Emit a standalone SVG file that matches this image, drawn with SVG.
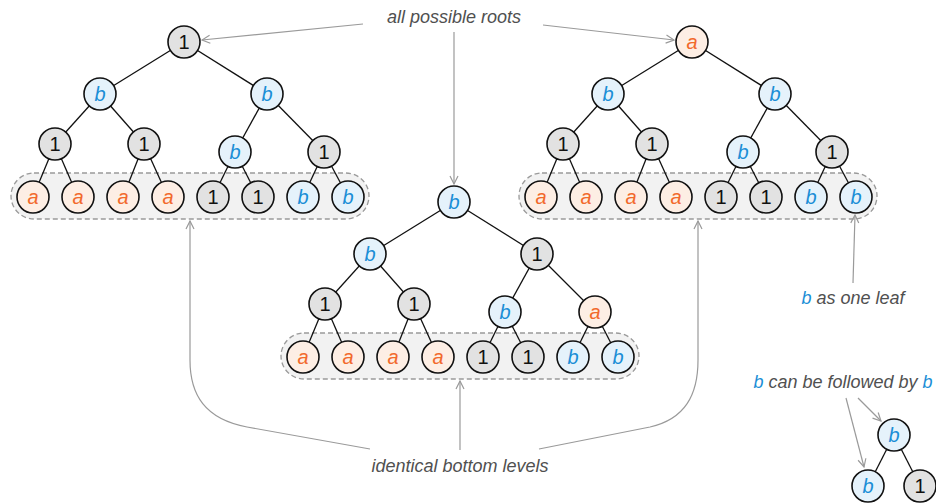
<svg xmlns="http://www.w3.org/2000/svg" width="936" height="504" viewBox="0 0 936 504">
<style>
.bg{fill:#ffffff}
circle{stroke:#111111;stroke-width:1.6}
.g circle{fill:#e2e2e2}
.b circle{fill:#e5f2fb}
.a circle{fill:#fdeee4}
.n text{font-family:"Liberation Sans",Arial,sans-serif;font-size:20px;text-anchor:middle}
.g text{fill:#111111}
.b text{fill:#1a8ed6;font-style:italic}
.a text{fill:#f26a2c;font-style:italic}
.edges line{stroke:#111111;stroke-width:1.3}
.box{fill:#f2f2f2;stroke:#9a9a9a;stroke-width:1.3;stroke-dasharray:5 3}
.arr{fill:none;stroke:#9a9a9a;stroke-width:1.2;marker-end:url(#ah)}
.lbl{font-family:"Liberation Sans",Arial,sans-serif;font-size:18px;font-style:italic;fill:#505050}
.lb{fill:#1a8ed6}
</style>
<defs>
<marker id="ah" viewBox="0 0 10 10" refX="9" refY="5" markerWidth="10" markerHeight="10" markerUnits="userSpaceOnUse" orient="auto">
<path d="M1,1 L9,5 L1,9" fill="none" stroke="#9a9a9a" stroke-width="1.2"/>
</marker>
</defs>
<rect class="bg" x="0" y="0" width="936" height="504"/>

<g id="boxes">
<rect class="box" x="11" y="173" width="358" height="46" rx="23"/>
<rect class="box" x="519" y="173" width="358" height="46" rx="23"/>
<rect class="box" x="281" y="333" width="358" height="46" rx="23"/>
</g>

<g id="connectors">
<g class="edges">
<line x1="184" y1="42" x2="100" y2="94"/><line x1="184" y1="42" x2="267" y2="94"/>
<line x1="100" y1="94" x2="55" y2="144"/><line x1="100" y1="94" x2="144" y2="144"/>
<line x1="267" y1="94" x2="235" y2="152"/><line x1="267" y1="94" x2="324" y2="152"/>
<line x1="55" y1="144" x2="33" y2="197"/><line x1="55" y1="144" x2="78" y2="197"/>
<line x1="144" y1="144" x2="123" y2="197"/><line x1="144" y1="144" x2="168" y2="197"/>
<line x1="235" y1="152" x2="213" y2="197"/><line x1="235" y1="152" x2="258" y2="197"/>
<line x1="324" y1="152" x2="303" y2="197"/><line x1="324" y1="152" x2="348" y2="197"/>
<line x1="692" y1="42" x2="608" y2="94"/><line x1="692" y1="42" x2="775" y2="94"/>
<line x1="608" y1="94" x2="563" y2="144"/><line x1="608" y1="94" x2="652" y2="144"/>
<line x1="775" y1="94" x2="743" y2="152"/><line x1="775" y1="94" x2="832" y2="152"/>
<line x1="563" y1="144" x2="541" y2="197"/><line x1="563" y1="144" x2="586" y2="197"/>
<line x1="652" y1="144" x2="631" y2="197"/><line x1="652" y1="144" x2="676" y2="197"/>
<line x1="743" y1="152" x2="721" y2="197"/><line x1="743" y1="152" x2="766" y2="197"/>
<line x1="832" y1="152" x2="811" y2="197"/><line x1="832" y1="152" x2="856" y2="197"/>
<line x1="454" y1="202" x2="370" y2="254"/><line x1="454" y1="202" x2="537" y2="254"/>
<line x1="370" y1="254" x2="325" y2="304"/><line x1="370" y1="254" x2="414" y2="304"/>
<line x1="537" y1="254" x2="505" y2="312"/><line x1="537" y1="254" x2="595" y2="312"/>
<line x1="325" y1="304" x2="303" y2="357"/><line x1="325" y1="304" x2="348" y2="357"/>
<line x1="414" y1="304" x2="393" y2="357"/><line x1="414" y1="304" x2="438" y2="357"/>
<line x1="505" y1="312" x2="483" y2="357"/><line x1="505" y1="312" x2="528" y2="357"/>
<line x1="595" y1="312" x2="573" y2="357"/><line x1="595" y1="312" x2="618" y2="357"/>
<line x1="894" y1="435" x2="868" y2="486"/><line x1="894" y1="435" x2="920" y2="486"/>
</g>
<path class="arr" d="M363,24 L202,40"/>
<path class="arr" d="M543,25 L674,40"/>
<path class="arr" d="M454,32 L454,184"/>
<path class="arr" d="M370,449 L247,427 C205,419 190,395 190,360 L190,221"/>
<path class="arr" d="M539,449 L650,427 C685,419 698,395 698,360 L698,221"/>
<path class="arr" d="M460,450 L460,381"/>
<path class="arr" d="M853,283 L855,215"/>
<path class="arr" d="M858,398 L881,421"/>
<path class="arr" d="M846,398 L864,467"/>
</g>

<g id="t1-r" class="n g"><circle cx="184" cy="42" r="16"/><text x="184" y="49">1</text></g>
<g id="t1-l" class="n b"><circle cx="100" cy="94" r="16"/><text x="100" y="101">b</text></g>
<g id="t1-r2" class="n b"><circle cx="267" cy="94" r="16"/><text x="267" y="101">b</text></g>
<g id="t1-ll" class="n g"><circle cx="55" cy="144" r="16"/><text x="55" y="151">1</text></g>
<g id="t1-lr" class="n g"><circle cx="144" cy="144" r="16"/><text x="144" y="151">1</text></g>
<g id="t1-rl" class="n b"><circle cx="235" cy="152" r="16"/><text x="235" y="159">b</text></g>
<g id="t1-rr" class="n g"><circle cx="324" cy="152" r="16"/><text x="324" y="159">1</text></g>
<g id="t1-f1" class="n a"><circle cx="33" cy="197" r="16"/><text x="33" y="204">a</text></g>
<g id="t1-f2" class="n a"><circle cx="78" cy="197" r="16"/><text x="78" y="204">a</text></g>
<g id="t1-f3" class="n a"><circle cx="123" cy="197" r="16"/><text x="123" y="204">a</text></g>
<g id="t1-f4" class="n a"><circle cx="168" cy="197" r="16"/><text x="168" y="204">a</text></g>
<g id="t1-f5" class="n g"><circle cx="213" cy="197" r="16"/><text x="213" y="204">1</text></g>
<g id="t1-f6" class="n g"><circle cx="258" cy="197" r="16"/><text x="258" y="204">1</text></g>
<g id="t1-f7" class="n b"><circle cx="303" cy="197" r="16"/><text x="303" y="204">b</text></g>
<g id="t1-f8" class="n b"><circle cx="348" cy="197" r="16"/><text x="348" y="204">b</text></g>

<g id="t3-r" class="n a"><circle cx="692" cy="42" r="16"/><text x="692" y="49">a</text></g>
<g id="t3-l" class="n b"><circle cx="608" cy="94" r="16"/><text x="608" y="101">b</text></g>
<g id="t3-r2" class="n b"><circle cx="775" cy="94" r="16"/><text x="775" y="101">b</text></g>
<g id="t3-ll" class="n g"><circle cx="563" cy="144" r="16"/><text x="563" y="151">1</text></g>
<g id="t3-lr" class="n g"><circle cx="652" cy="144" r="16"/><text x="652" y="151">1</text></g>
<g id="t3-rl" class="n b"><circle cx="743" cy="152" r="16"/><text x="743" y="159">b</text></g>
<g id="t3-rr" class="n g"><circle cx="832" cy="152" r="16"/><text x="832" y="159">1</text></g>
<g id="t3-f1" class="n a"><circle cx="541" cy="197" r="16"/><text x="541" y="204">a</text></g>
<g id="t3-f2" class="n a"><circle cx="586" cy="197" r="16"/><text x="586" y="204">a</text></g>
<g id="t3-f3" class="n a"><circle cx="631" cy="197" r="16"/><text x="631" y="204">a</text></g>
<g id="t3-f4" class="n a"><circle cx="676" cy="197" r="16"/><text x="676" y="204">a</text></g>
<g id="t3-f5" class="n g"><circle cx="721" cy="197" r="16"/><text x="721" y="204">1</text></g>
<g id="t3-f6" class="n g"><circle cx="766" cy="197" r="16"/><text x="766" y="204">1</text></g>
<g id="t3-f7" class="n b"><circle cx="811" cy="197" r="16"/><text x="811" y="204">b</text></g>
<g id="t3-f8" class="n b"><circle cx="856" cy="197" r="16"/><text x="856" y="204">b</text></g>

<g id="t2-r" class="n b"><circle cx="454" cy="202" r="16"/><text x="454" y="209">b</text></g>
<g id="t2-l" class="n b"><circle cx="370" cy="254" r="16"/><text x="370" y="261">b</text></g>
<g id="t2-r2" class="n g"><circle cx="537" cy="254" r="16"/><text x="537" y="261">1</text></g>
<g id="t2-ll" class="n g"><circle cx="325" cy="304" r="16"/><text x="325" y="311">1</text></g>
<g id="t2-lr" class="n g"><circle cx="414" cy="304" r="16"/><text x="414" y="311">1</text></g>
<g id="t2-rl" class="n b"><circle cx="505" cy="312" r="16"/><text x="505" y="319">b</text></g>
<g id="t2-rr" class="n a"><circle cx="595" cy="312" r="16"/><text x="595" y="319">a</text></g>
<g id="t2-f1" class="n a"><circle cx="303" cy="357" r="16"/><text x="303" y="364">a</text></g>
<g id="t2-f2" class="n a"><circle cx="348" cy="357" r="16"/><text x="348" y="364">a</text></g>
<g id="t2-f3" class="n a"><circle cx="393" cy="357" r="16"/><text x="393" y="364">a</text></g>
<g id="t2-f4" class="n a"><circle cx="438" cy="357" r="16"/><text x="438" y="364">a</text></g>
<g id="t2-f5" class="n g"><circle cx="483" cy="357" r="16"/><text x="483" y="364">1</text></g>
<g id="t2-f6" class="n g"><circle cx="528" cy="357" r="16"/><text x="528" y="364">1</text></g>
<g id="t2-f7" class="n b"><circle cx="573" cy="357" r="16"/><text x="573" y="364">b</text></g>
<g id="t2-f8" class="n b"><circle cx="618" cy="357" r="16"/><text x="618" y="364">b</text></g>

<g id="s-r" class="n b"><circle cx="894" cy="435" r="16"/><text x="894" y="442">b</text></g>
<g id="s-l" class="n b"><circle cx="868" cy="486" r="16"/><text x="868" y="493">b</text></g>
<g id="s-rr" class="n g"><circle cx="920" cy="486" r="16"/><text x="920" y="493">1</text></g>

<g id="labels">
<text class="lbl" x="454" y="23" text-anchor="middle">all possible roots</text>
<text class="lbl" x="460" y="472" text-anchor="middle">identical bottom levels</text>
<text class="lbl" x="853" y="304" text-anchor="middle"><tspan class="lb">b</tspan> as one leaf</text>
<text class="lbl" x="843" y="388" text-anchor="middle"><tspan class="lb">b</tspan> can be followed by <tspan class="lb">b</tspan></text>
</g>
</svg>
